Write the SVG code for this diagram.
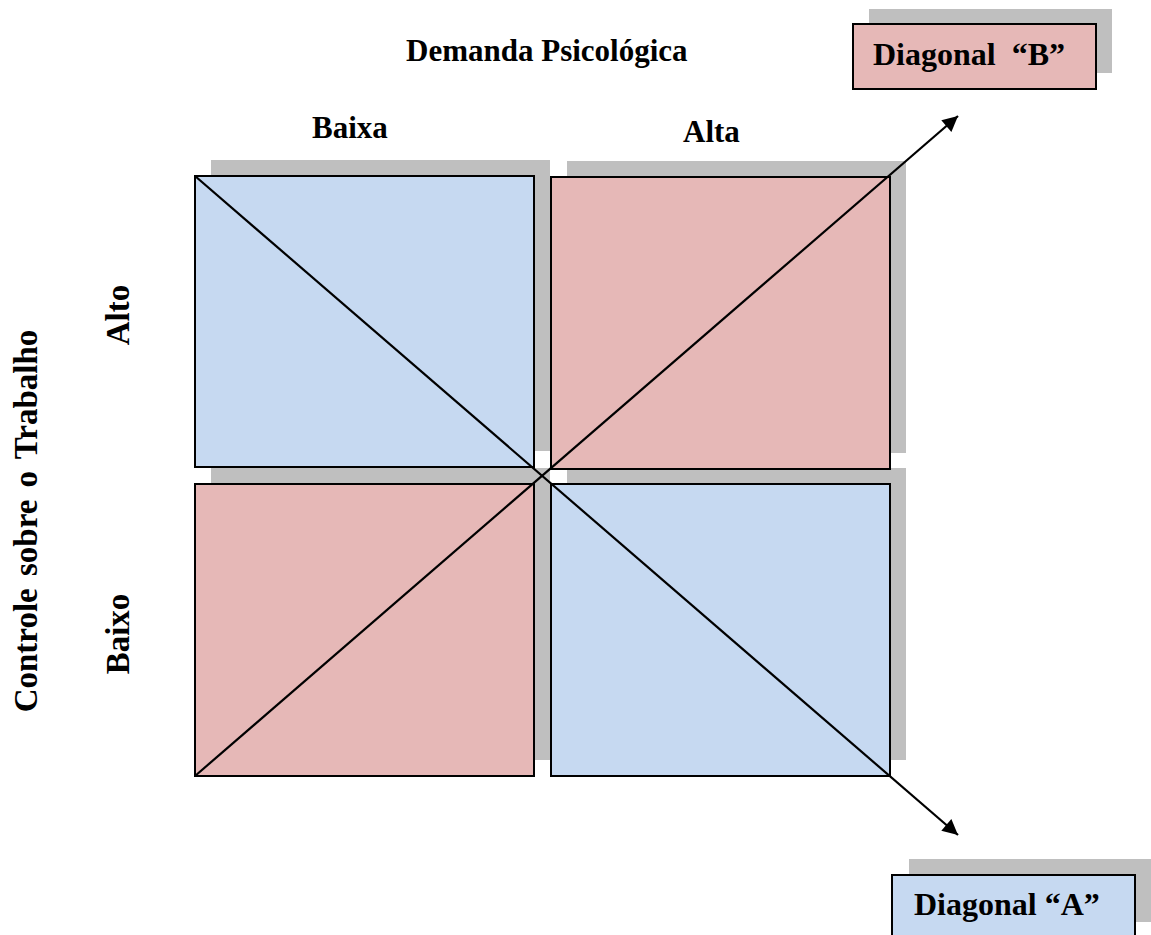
<svg xmlns="http://www.w3.org/2000/svg" width="1151" height="935" viewBox="0 0 1151 935">
<style>
.sh{fill:#BFBFBF;stroke:none}
.blue{fill:#C6D9F1;stroke:#000;stroke-width:2}
.pink{fill:#E6B8B7;stroke:#000;stroke-width:2}
.t{font-family:"Liberation Serif","Times New Roman",serif;font-weight:bold;fill:#000}
.ln{stroke:#000;stroke-width:2.2;fill:none;marker-end:url(#ah)}
</style>
<defs>
<marker id="ah" viewBox="0 0 10 10" refX="10" refY="5" markerWidth="8" markerHeight="7" markerUnits="strokeWidth" orient="auto">
<path d="M0,0 L10,5 L0,10 z" fill="#000"/>
</marker>
</defs>
<rect width="1151" height="935" fill="#fff"/>
<g id="shadows">
<rect class="sh" x="211" y="160" width="339" height="291"/>
<rect class="sh" x="567" y="161" width="339" height="292"/>
<rect class="sh" x="211" y="468" width="339" height="292"/>
<rect class="sh" x="567" y="468" width="339" height="292"/>
<rect class="sh" x="869" y="9" width="243" height="64"/>
<rect class="sh" x="909" y="859" width="243" height="63"/>
</g>
<g id="q-alto-baixa"><rect class="blue" x="195" y="176" width="339" height="291"/></g>
<g id="q-alto-alta"><rect class="pink" x="551" y="177" width="339" height="292"/></g>
<g id="q-baixo-baixa"><rect class="pink" x="195" y="484" width="339" height="292"/></g>
<g id="q-baixo-alta"><rect class="blue" x="551" y="484" width="339" height="292"/></g>
<g id="diag-b">
<rect class="pink" x="853" y="24" width="243" height="65"/>
<text class="t" x="873" y="65" font-size="32" xml:space="preserve">Diagonal  “B”</text>
</g>
<g id="diag-a">
<rect class="blue" x="892" y="875" width="243" height="65"/>
<text class="t" x="914" y="915" font-size="32">Diagonal “A”</text>
</g>
<g id="connectors">
<line class="ln" x1="195" y1="176" x2="958" y2="835"/>
<line class="ln" x1="195" y1="776" x2="958" y2="116"/>
</g>
<g id="labels">
<text class="t" x="406" y="61" font-size="31">Demanda Psicológica</text>
<text class="t" x="312" y="138" font-size="31">Baixa</text>
<text class="t" x="683" y="142" font-size="31">Alta</text>
<text class="t" font-size="33" text-anchor="middle" word-spacing="4" transform="translate(37,521) rotate(-90)">Controle sobre o Trabalho</text>
<text class="t" font-size="33" text-anchor="middle" transform="translate(129,315) rotate(-90)">Alto</text>
<text class="t" font-size="33" text-anchor="middle" transform="translate(129,634) rotate(-90)">Baixo</text>
</g>
</svg>
